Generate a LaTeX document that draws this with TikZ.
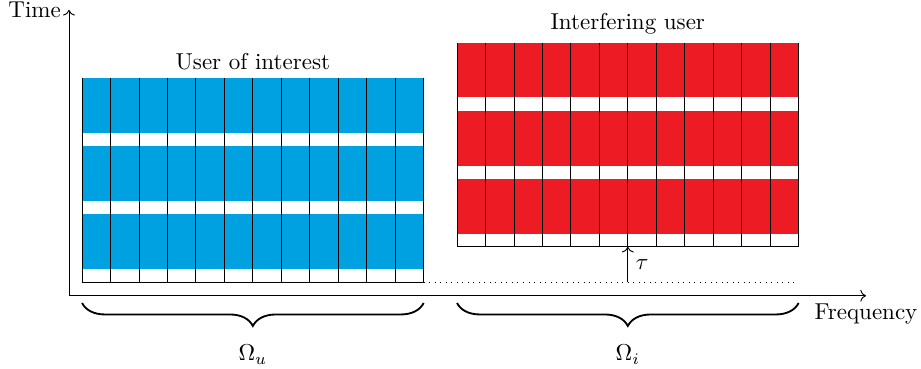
\documentclass[tikz,border=0pt]{standalone}
\usepackage{amsmath,amssymb}
\usepackage{tikz}
\usetikzlibrary{positioning,calc,arrows.meta,decorations.pathreplacing}
\usepackage{xcolor}
\definecolor{userblue}{RGB}{0,161,224}
\definecolor{interfred}{RGB}{237,28,36}

\begin{document}
\begin{tikzpicture}[
    brace/.style={decorate,decoration={brace,mirror,amplitude=10pt},thick},
    gridline/.style={black}
    ]
\useasboundingbox (-1.054,-1.115) rectangle (13.02,4.52);
% Axes
\coordinate (o) at (0,0);
\coordinate (tmax) at (0,4.37);
\coordinate (fmax) at (12.18,0);
\draw[->] (o) -- (tmax) node[left] {Time};
\draw[->] (o) -- (fmax) node[below] {Frequency};

% Utilisateur d'interet
\begin{scope}[shift={(0.2,0.21)}]
  \foreach \k in {0,1,2}
    \fill[userblue] (0,{\k*1.04+0.2}) rectangle (5.22,{\k*1.04+1.04});
  \foreach \i in {0,...,12}
    \draw[gridline] ({\i*0.435},0) -- ({\i*0.435},3.12);
  \draw[gridline] (0,0) -- (5.22,0);
  \coordinate (u-sw) at (0,0);
  \coordinate (u-se) at (5.22,0);
  \coordinate (u-n) at (2.61,3.12);
\end{scope}
\node[above] (user) at (u-n) {User of interest};

% Utilisateur interferant
\begin{scope}[shift={(5.93,0.75)}]
  \foreach \k in {0,1,2}
    \fill[interfred] (0,{\k*1.04+0.2}) rectangle (5.22,{\k*1.04+1.04});
  \foreach \i in {0,...,12}
    \draw[gridline] ({\i*0.435},0) -- ({\i*0.435},3.12);
  \draw[gridline] (0,0) -- (5.22,0);
  \coordinate (i-sw) at (0,0);
  \coordinate (i-se) at (5.22,0);
  \coordinate (i-s) at (2.61,0);
  \coordinate (i-n) at (2.61,3.12);
\end{scope}
\node[above] (interf) at (i-n) {Interfering user};

% Decalage temporel
\coordinate (ref-e) at (i-se |- u-se);
\coordinate (ref-s) at (i-s |- u-se);
\draw[dotted] (u-se) -- (ref-e);
\draw[->] (ref-s) -- node[right] {$\tau$} (i-s);

% Bandes
\draw[brace] ($(u-sw |- o)+(0,-0.11)$) -- ($(u-se |- o)+(0,-0.11)$)
  node[midway,below=0.51cm] (omu) {$\Omega_u$};
\draw[brace] ($(i-sw |- o)+(0,-0.11)$) -- ($(i-se |- o)+(0,-0.11)$)
  node[midway,below=0.51cm] (omi) {$\Omega_i$};
\end{tikzpicture}
\end{document}
